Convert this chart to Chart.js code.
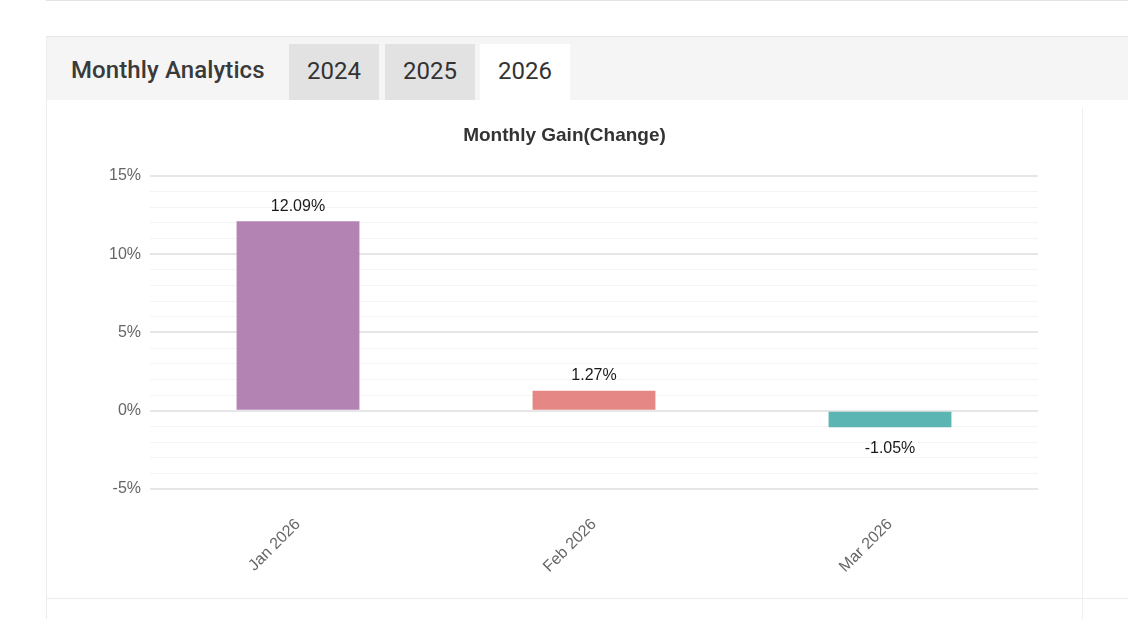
<!DOCTYPE html>
<html>
<head>
<meta charset="utf-8">
<script src="https://cdn.jsdelivr.net/npm/chart.js@4.4.1/dist/chart.umd.min.js"></script>
<style>
  html, body { margin: 0; padding: 0; background: #fff; width: 1128px; height: 619px; overflow: hidden; font-family: Roboto, "Liberation Sans", Arial, sans-serif; }
  #topline { position: absolute; left: 46px; top: 0; right: 0; height: 1px; background: #e3e3e3; }
  #panel { position: absolute; left: 46px; top: 36px; right: -2px; height: 600px; border-top: 1px solid #e6e6e6; border-left: 1px solid #ececec; }
  #header { position: absolute; left: 0; top: 0; right: 0; height: 63px; background: #f5f5f5; }
  #title { position: absolute; left: 24px; top: 19px; font-size: 24px; font-weight: 500; color: #3a3a3a; letter-spacing: 0.1px; }
  .tab { position: absolute; top: 7px; height: 56px; width: 90px; line-height: 54px; text-align: center; font-size: 24px; color: #333; background: #e2e2e2; }
  .tab.active { background: #fff; }
  #vline { position: absolute; left: 1035px; top: 70px; width: 1px; height: 560px; background: #f0f0f0; }
  #bline { position: absolute; left: 0; top: 561px; right: 0; height: 1px; background: #ececec; }
  #wrap { position: absolute; left: 47px; top: 107px; width: 1035px; height: 490px; }
</style>
</head>
<body>
<div id="topline"></div>
<div id="panel">
  <div id="header">
    <div id="title">Monthly Analytics</div>
    <div class="tab" style="left:242px">2024</div>
    <div class="tab" style="left:338px">2025</div>
    <div class="tab active" style="left:433px">2026</div>
  </div>
  <div id="vline"></div>
  <div id="bline"></div>
</div>
<div id="wrap"><canvas id="c"></canvas></div>
<script>
const categories = ["Jan 2026", "Feb 2026", "Mar 2026"];
const gains = [12.09, 1.27, -1.05];
const barColors = ["#b384b3", "#e48785", "#5bb5b3"];
const yMin = -5, yMax = 15;
const majorStep = 5;

const valueLabels = {
  id: 'valueLabels',
  afterDatasetsDraw(chart) {
    const ctx = chart.ctx;
    const meta = chart.getDatasetMeta(0);
    ctx.save();
    ctx.font = '16px "Liberation Sans", Arial, sans-serif';
    ctx.fillStyle = '#1a1a1a';
    ctx.textAlign = 'center';
    ctx.textBaseline = 'middle';
    meta.data.forEach((bar, i) => {
      const v = gains[i];
      const y = v >= 0 ? bar.y - 15 : bar.y + 21;
      ctx.fillText(v.toFixed(2) + '%', bar.x, y);
    });
    ctx.restore();
  }
};

new Chart(document.getElementById('c'), {
  type: 'bar',
  data: {
    labels: categories,
    datasets: [{
      data: gains,
      backgroundColor: barColors,
      borderWidth: 0,
      barPercentage: 0.415,
      categoryPercentage: 1
    }]
  },
  options: {
    responsive: true,
    maintainAspectRatio: false,
    animation: false,
    layout: { padding: 0 },
    plugins: {
      legend: { display: false },
      tooltip: { enabled: false },
      title: {
        display: true,
        text: 'Monthly Gain(Change)',
        color: '#333',
        font: { family: '"Liberation Sans", Arial, sans-serif', size: 19, weight: 'bold' },
        padding: { top: 17, bottom: 29 }
      }
    },
    scales: {
      x: {
        grid: { display: false },
        border: { display: false },
        ticks: {
          color: '#666',
          font: { family: '"Liberation Sans", Arial, sans-serif', size: 16 },
          maxRotation: 45, minRotation: 45,
          padding: 18
        },
        afterFit(s) { s.height = 108; }
      },
      y: {
        min: yMin, max: yMax,
        border: { display: false },
        grid: {
          drawTicks: false,
          color: (c) => (c.tick && c.tick.value % majorStep === 0) ? '#e6e6e6' : '#f4f4f4',
          lineWidth: (c) => (c.tick && c.tick.value % majorStep === 0) ? 2 : 1
        },
        ticks: {
          stepSize: 1,
          autoSkip: false,
          padding: 9,
          color: '#666',
          font: { family: '"Liberation Sans", Arial, sans-serif', size: 16 },
          callback: (v) => (v % majorStep === 0) ? v + '%' : ''
        },
        afterFit(s) { s.width = 103; }
      },
      spacer: {
        type: 'linear',
        position: 'right',
        display: true,
        grid: { display: false },
        border: { display: false },
        ticks: { display: false },
        afterFit(s) { s.width = 44; }
      }
    }
  },
  plugins: [valueLabels]
});
</script>
</body>
</html>
